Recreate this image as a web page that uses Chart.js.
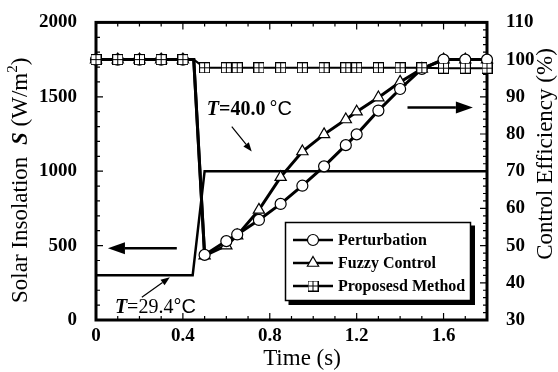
<!DOCTYPE html>
<html>
<head>
<meta charset="utf-8">
<script src="https://cdn.jsdelivr.net/npm/chart.js@4.4.0/dist/chart.umd.min.js"></script>
<style>
  html, body { margin: 0; padding: 0; background: #fff; }
  #wrap { width: 558px; height: 372px; position: relative; }
</style>
</head>
<body>
<div id="wrap"><canvas id="chart"></canvas></div>
<script>
// time axis shared by the three efficiency curves (s)
const times = [0, 0.1, 0.2, 0.3, 0.4, 0.45, 0.5, 0.6, 0.65, 0.75, 0.85, 0.95, 1.05, 1.15, 1.2, 1.3, 1.4, 1.5, 1.6, 1.7, 1.8];
const unmarked = [0.45];

// control efficiency (%)
const perturbation = [100, 100, 100, 100, 100, 100, 47.5, 51.2, 53, 56.9, 61.2, 66.1, 71.3, 77, 79.9, 86.3, 92.1, 97.5, 100, 100, 100];
const fuzzy = [100, 100, 100, 100, 100, 100, 47.3, 50, 52.7, 59.6, 68.4, 75.3, 79.9, 83.9, 86, 89.8, 94, 97.5, 100, 100, 100];
const proposed = [100, 100, 100, 100, 100, 100, 97.8, 97.8, 97.8, 97.8, 97.8, 97.8, 97.8, 97.8, 97.8, 97.8, 97.8, 97.8, 97.7, 97.7, 97.7];

// solar insolation S (W/m2)
const insolationTimes = [0, 0.445, 0.5, 1.8];
const insolation = [300, 300, 1000, 1000];

const xTicks = [0, 0.4, 0.8, 1.2, 1.6];
const xLabels = ['0', '0.4', '0.8', '1.2', '1.6'];
const sTicks = [0, 500, 1000, 1500, 2000];
const effTicks = [30, 40, 50, 60, 70, 80, 90, 100, 110];
const legendOrder = ['Perturbation', 'Fuzzy Control', 'Proposesd Method'];

const serif = '"Liberation Serif", "Times New Roman", serif';
const sans = '"Liberation Sans", Arial, sans-serif';

function pts(xs, ys) {
  return xs.map((x, i) => ({ x, y: ys[i] }));
}

function radii(r) {
  return times.map(t => unmarked.includes(t) ? 0 : r);
}

// square with a cross inside
function boxMarker(size) {
  const c = document.createElement('canvas');
  c.width = size;
  c.height = size;
  const g = c.getContext('2d');
  g.fillStyle = '#fff';
  g.fillRect(0, 0, size, size);
  g.strokeStyle = '#000';
  g.lineWidth = 1;
  g.strokeRect(0.5, 0.5, size - 1, size - 1);
  const m = Math.floor(size / 2) + 0.5;
  g.beginPath();
  g.moveTo(m, 0); g.lineTo(m, size);
  g.moveTo(0, m); g.lineTo(size, m);
  g.stroke();
  return c;
}
const box = boxMarker(11);

function arrow(ctx, x1, y1, x2, y2, w, len, half) {
  const ang = Math.atan2(y2 - y1, x2 - x1);
  const bx = x2 - len * Math.cos(ang), by = y2 - len * Math.sin(ang);
  ctx.lineWidth = w;
  ctx.beginPath();
  ctx.moveTo(x1, y1);
  ctx.lineTo(bx, by);
  ctx.stroke();
  ctx.beginPath();
  ctx.moveTo(x2, y2);
  ctx.lineTo(bx + half * Math.sin(ang), by - half * Math.cos(ang));
  ctx.lineTo(bx - half * Math.sin(ang), by + half * Math.cos(ang));
  ctx.closePath();
  ctx.fill();
}

// draws pieces of text one after another, [text, font, dy]
function runs(ctx, x, y, parts) {
  parts.forEach(([t, f, dy]) => {
    ctx.font = f;
    ctx.fillText(t, x, y + (dy || 0));
    x += ctx.measureText(t).width;
  });
}

// inward ticks + frame
const frame = {
  id: 'frame',
  beforeDatasetsDraw(chart) {
    const { ctx, chartArea: a, scales } = chart;
    ctx.save();
    ctx.strokeStyle = '#000';
    ctx.lineWidth = 1.2;
    ctx.beginPath();
    for (let i = 0; i <= 18; i++) {
      const px = scales.x.getPixelForValue(i / 10);
      const len = i % 4 === 0 ? 7 : 4;
      ctx.moveTo(px, a.bottom); ctx.lineTo(px, a.bottom - len);
      ctx.moveTo(px, a.top); ctx.lineTo(px, a.top + len);
    }
    for (let i = 0; i <= 20; i++) {
      const py = scales.y.getPixelForValue(i * 100);
      const len = i % 5 === 0 ? 7 : 4;
      ctx.moveTo(a.left, py); ctx.lineTo(a.left + len, py);
    }
    for (let i = 0; i <= 40; i++) {
      const py = scales.y1.getPixelForValue(30 + i * 2);
      const len = i % 5 === 0 ? 7 : 4;
      ctx.moveTo(a.right, py); ctx.lineTo(a.right - len, py);
    }
    ctx.stroke();
    ctx.lineWidth = 3;
    ctx.strokeRect(a.left, a.top, a.right - a.left, a.bottom - a.top);
    ctx.restore();
  }
};

const notes = {
  id: 'notes',
  afterDatasetsDraw(chart) {
    const { ctx, scales } = chart;
    const X = v => scales.x.getPixelForValue(v);
    const S = v => scales.y.getPixelForValue(v);
    const E = v => scales.y1.getPixelForValue(v);
    ctx.save();
    ctx.fillStyle = '#000';
    ctx.strokeStyle = '#000';

    // which axis each curve belongs to
    arrow(ctx, X(0.372), S(483), X(0.055), S(483), 2.5, 17, 6);
    arrow(ctx, X(1.434), E(87.1), X(1.735), E(87.1), 2.5, 17, 6);

    // temperature labels
    ctx.textBaseline = 'alphabetic';
    runs(ctx, X(0.51), S(1380), [
      ['T', 'italic bold 20px ' + serif],
      ['=40.0', 'bold 20px ' + serif],
      ['\u2009°C', '20px ' + sans]
    ]);
    arrow(ctx, X(0.625), S(1300), X(0.717), S(1133), 1.2, 9, 3.5);

    runs(ctx, X(0.087), S(47), [
      ['T', 'italic bold 20px ' + serif],
      ['=29.4', '20px ' + serif],
      ['°C', '20px ' + sans]
    ]);
    arrow(ctx, X(0.211), S(153), X(0.34), S(287), 1.2, 9, 3.5);

    // legend
    const lx = 285.5, ly = 222.5, lw = 185, lh = 78;
    ctx.fillRect(lx + 3, ly + 3, lw + 1.5, lh + 1.5);
    ctx.fillStyle = '#fff';
    ctx.fillRect(lx, ly, lw, lh);
    ctx.lineWidth = 1.5;
    ctx.strokeRect(lx, ly, lw, lh);
    const rows = [240, 263, 286];
    legendOrder.forEach((name, i) => {
      const d = chart.data.datasets.find(ds => ds.label === name);
      const y = rows[i];
      ctx.strokeStyle = '#000';
      ctx.lineWidth = 2.5;
      ctx.beginPath();
      ctx.moveTo(293, y); ctx.lineTo(333, y);
      ctx.stroke();
      ctx.fillStyle = '#fff';
      ctx.lineWidth = d.pointBorderWidth;
      Chart.helpers.drawPoint(ctx, {
        pointStyle: d.pointStyle, radius: d.legendRadius, rotation: 0, borderWidth: d.pointBorderWidth
      }, 313, y);
      ctx.fillStyle = '#000';
      ctx.font = 'bold 16px ' + serif;
      ctx.textBaseline = 'middle';
      ctx.fillText(d.label, 338, y + 1);
    });
    ctx.restore();
  },
  afterDraw(chart) {
    const { ctx } = chart;
    ctx.save();
    ctx.fillStyle = '#000';
    ctx.textBaseline = 'middle';

    ctx.font = '23px ' + serif;
    ctx.textAlign = 'center';
    ctx.fillText('Time (s)', 302, 359);

    ctx.save();
    ctx.translate(546, 154);
    ctx.rotate(-Math.PI / 2);
    ctx.fillText('Control Efficiency (%)', 0, 0);
    ctx.restore();

    ctx.textAlign = 'left';
    ctx.translate(21, 303);
    ctx.rotate(-Math.PI / 2);
    ctx.font = '23px ' + serif;
    ctx.fillText('Solar Insolation', 0, 0);
    runs(ctx, 158, 0, [
      ['S', 'italic bold 23px ' + serif],
      [' (W/m', '23px ' + serif],
      ['2', '15px ' + serif, -8],
      [')', '23px ' + serif]
    ]);
    ctx.restore();
  }
};

const tickFont = { family: serif, size: 19, weight: 'bold' };

new Chart(document.getElementById('chart'), {
  type: 'line',
  data: {
    datasets: [
      {
        label: 'Proposesd Method',
        data: pts(times, proposed),
        yAxisID: 'y1',
        borderColor: '#000',
        borderWidth: 2,
        pointStyle: box,
        pointRadius: radii(5),
        legendRadius: 5,
        pointBorderWidth: 1,
        order: 0,
      },
      {
        label: 'Perturbation',
        data: pts(times, perturbation),
        yAxisID: 'y1',
        borderColor: '#000',
        borderWidth: 3,
        pointStyle: 'circle',
        pointRadius: radii(5.5),
        legendRadius: 5.5,
        pointBackgroundColor: '#fff',
        pointBorderColor: '#000',
        pointBorderWidth: 1.2,
        order: 1,
      },
      {
        label: 'Fuzzy Control',
        data: pts(times, fuzzy),
        yAxisID: 'y1',
        borderColor: '#000',
        borderWidth: 3,
        pointStyle: 'triangle',
        pointRadius: radii(6.5),
        legendRadius: 6.5,
        pointBackgroundColor: '#fff',
        pointBorderColor: '#000',
        pointBorderWidth: 1.2,
        order: 2,
      },
      {
        label: 'Solar Insolation',
        data: pts(insolationTimes, insolation),
        yAxisID: 'y',
        borderColor: '#000',
        borderWidth: 2.5,
        pointRadius: 0,
        order: 3,
      },
    ],
  },
  options: {
    responsive: true,
    maintainAspectRatio: false,
    animation: false,
    clip: false,
    layout: { padding: { top: 20 } },
    elements: { line: { tension: 0 } },
    plugins: {
      legend: { display: false },
      tooltip: { enabled: false },
    },
    scales: {
      x: {
        type: 'linear',
        min: 0,
        max: 1.8,
        grid: { display: false },
        border: { display: false },
        afterBuildTicks: s => { s.ticks = xTicks.map(v => ({ value: v })); },
        afterFit: s => { s.height = 52; },
        ticks: {
          color: '#000',
          font: tickFont,
          padding: -3,
          autoSkip: false,
          maxRotation: 0,
          callback: v => xLabels[xTicks.indexOf(v)],
        },
      },
      y: {
        position: 'left',
        min: 0,
        max: 2000,
        grid: { display: false },
        border: { display: false },
        afterBuildTicks: s => { s.ticks = sTicks.map(v => ({ value: v })); },
        afterFit: s => { s.width = 96; },
        ticks: { color: '#000', font: tickFont, padding: 11, autoSkip: false, callback: v => String(v) },
      },
      y1: {
        position: 'right',
        min: 30,
        max: 110,
        grid: { display: false },
        border: { display: false },
        afterBuildTicks: s => { s.ticks = effTicks.map(v => ({ value: v })); },
        afterFit: s => { s.width = 71; },
        ticks: { color: '#000', font: tickFont, padding: 11, autoSkip: false, callback: v => String(v) },
      },
    },
  },
  plugins: [frame, notes],
});
</script>
</body>
</html>
